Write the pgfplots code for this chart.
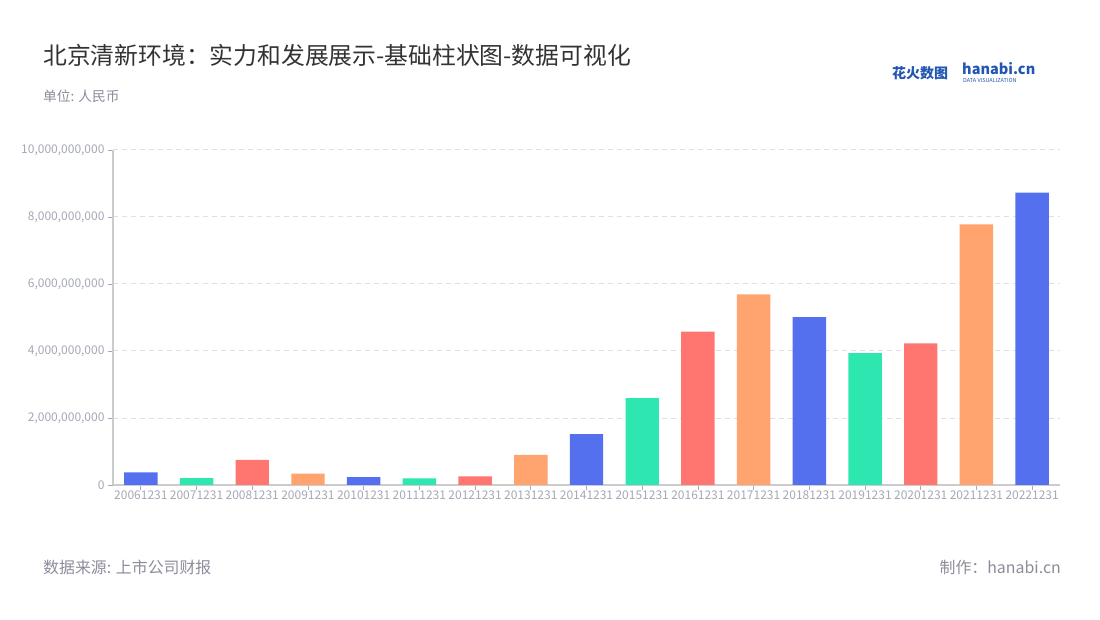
\documentclass[border=0pt]{standalone}
\usepackage{pgfplots}
\pgfplotsset{compat=1.18}
\usepackage{fontspec}
\setmainfont{Noto Sans CJK SC}
\definecolor{cblue}{HTML}{5470EE}
\definecolor{cgreen}{HTML}{2DE6B0}
\definecolor{cred}{HTML}{FF7670}
\definecolor{corange}{HTML}{FFA36F}
\definecolor{titlec}{HTML}{333333}
\definecolor{subc}{HTML}{8C8C9C}
\definecolor{tickc}{HTML}{A5A8B5}
\definecolor{linec}{HTML}{CCCCCC}
\definecolor{gridc}{HTML}{E0E0E0}
\definecolor{logoc}{HTML}{2356B0}
\begin{document}
\begin{tikzpicture}
\path[use as bounding box] (0bp,0bp) rectangle (1100bp,620bp);
\node[anchor=west, inner sep=0, text=titlec, font=\fontsize{23.8bp}{27bp}\selectfont] at (43bp,565bp) {北京清新环境：实力和发展展示-基础柱状图-数据可视化};
\node[anchor=west, inner sep=0, text=subc, font=\fontsize{13.7bp}{16bp}\selectfont] at (43bp,524bp) {单位: 人民币};
\node[anchor=west, inner sep=0, text=subc, font=\fontsize{15.9bp}{18bp}\selectfont] at (43bp,53bp) {数据来源: 上市公司财报};
\node[anchor=east, inner sep=0, text=subc, font=\fontsize{15.9bp}{18bp}\selectfont] at (1061bp,53bp) {制作：hanabi.cn};
\node[anchor=west, inner sep=0, text=logoc, font=\fontsize{14bp}{16bp}\selectfont\bfseries] at (892bp,547bp) {花火数图};
\node[anchor=west, inner sep=0, text=logoc, font=\fontsize{14.5bp}{16bp}\selectfont\bfseries] at (962bp,551bp) {hanabi.cn};
\node[anchor=west, inner sep=0, text=logoc, font=\fontsize{5.5bp}{6bp}\selectfont] at (963bp,540bp) {DATA VISUALIZATION};
\begin{axis}[
  at={(113bp,135bp)}, anchor=south west,
  scale only axis, width=947bp, height=335bp,
  xmin=-0.5, xmax=16.5, ymin=0, ymax=10e9,
  axis x line*=bottom, axis y line*=left,
  axis line style={draw=linec, line width=1.2pt, -},
  xtick={0,...,16},
  xticklabels={20061231,20071231,20081231,20091231,20101231,20111231,20121231,20131231,20141231,20151231,20161231,20171231,20181231,20191231,20201231,20211231,20221231},
  ytick={0,2e9,4e9,6e9,8e9,10e9},
  yticklabels={0,{2,000,000,000},{4,000,000,000},{6,000,000,000},{8,000,000,000},{10,000,000,000}},
  scaled y ticks=false,
  tick align=outside, major tick length=5bp,
  tick style={draw=tickc, line width=0.8pt},
  ymajorgrids, grid style={draw=gridc, dash pattern=on 5bp off 4bp, line width=1pt},
  ticklabel style={text=tickc, font=\fontsize{12bp}{14bp}\selectfont},
  xticklabel style={inner sep=1pt},
  /pgf/number format/assume math mode=true,
  ybar, bar width=0.6,
]
\addplot[fill=cblue, draw=none, bar shift=0pt] coordinates {(0,0.377e9) (4,0.238e9) (8,1.52e9) (12,5.01e9) (16,8.73e9)};
\addplot[fill=cgreen, draw=none, bar shift=0pt] coordinates {(1,0.208e9) (5,0.2e9) (9,2.59e9) (13,3.94e9)};
\addplot[fill=cred, draw=none, bar shift=0pt] coordinates {(2,0.75e9) (6,0.26e9) (10,4.58e9) (14,4.23e9)};
\addplot[fill=corange, draw=none, bar shift=0pt] coordinates {(3,0.336e9) (7,0.9e9) (11,5.69e9) (15,7.78e9)};
\end{axis}
\end{tikzpicture}
\end{document}
